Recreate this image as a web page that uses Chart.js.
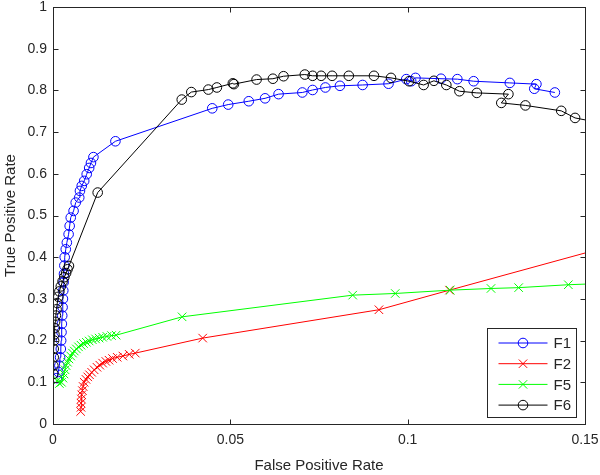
<!DOCTYPE html>
<html>
<head>
<meta charset="utf-8">
<script src="https://cdn.jsdelivr.net/npm/chart.js@4.4.1/dist/chart.umd.min.js"></script>
<style>
  html, body { margin: 0; padding: 0; background: #fff; }
  #wrap { width: 600px; height: 475px; }
</style>
</head>
<body>
<div id="wrap"><canvas id="roc"></canvas></div>
<script>
// values
const seriesNames = ['F1', 'F2', 'F5', 'F6'];

const f1X = [0.0011, 0.0015, 0.0018, 0.002, 0.0022, 0.0023, 0.0024, 0.0025, 0.0026, 0.0027,
             0.0028, 0.0029, 0.003, 0.0031, 0.0032, 0.0033, 0.0036, 0.0039, 0.0044, 0.0047,
             0.005, 0.0058, 0.0064, 0.0074, 0.0076, 0.0081, 0.0088, 0.0095, 0.0102, 0.0107,
             0.0114, 0.0176, 0.0449, 0.0494, 0.0552, 0.0598, 0.0636, 0.0703, 0.0732, 0.0768,
             0.0809, 0.0873, 0.0946, 0.0996, 0.101, 0.1022, 0.1094, 0.114, 0.1186, 0.1288,
             0.1363, 0.1357, 0.1415];
const f1Y = [0.11, 0.125, 0.14, 0.16, 0.18, 0.2, 0.22, 0.24, 0.26, 0.28,
             0.3, 0.32, 0.34, 0.36, 0.38, 0.4, 0.419, 0.435, 0.455, 0.475,
             0.495, 0.511, 0.531, 0.543, 0.559, 0.571, 0.583, 0.599, 0.614, 0.626,
             0.64, 0.678, 0.757, 0.766, 0.774, 0.781, 0.791, 0.795, 0.801, 0.807,
             0.811, 0.813, 0.816, 0.827, 0.822, 0.83, 0.828, 0.827, 0.822, 0.818,
             0.815, 0.804, 0.795];

const f2X = [0.0078, 0.0079, 0.0079, 0.008, 0.0081, 0.0083, 0.0085, 0.0088, 0.0093, 0.0098,
             0.0103, 0.0109, 0.0116, 0.0124, 0.0132, 0.014, 0.0149, 0.0158, 0.0168, 0.0181,
             0.0197, 0.0215, 0.0232, 0.0422, 0.0919, 0.1118, 0.156];
const f2Y = [0.03, 0.04, 0.05, 0.06, 0.07, 0.08, 0.09, 0.1, 0.107, 0.113,
             0.118, 0.124, 0.13, 0.136, 0.141, 0.146, 0.15, 0.153, 0.157, 0.16,
             0.163, 0.167, 0.17, 0.206, 0.274, 0.321, 0.424];

const f5X = [0.0013, 0.0018, 0.0024, 0.0028, 0.0031, 0.0034, 0.0037, 0.0041, 0.0045, 0.005,
             0.0055, 0.006, 0.0066, 0.0072, 0.0079, 0.0086, 0.0094, 0.0102, 0.0111, 0.012,
             0.013, 0.014, 0.0152, 0.0165, 0.0178, 0.0364, 0.0845, 0.0965, 0.112, 0.1235,
             0.1313, 0.1453, 0.155];
const f5Y = [0.105, 0.097, 0.1, 0.11, 0.12, 0.13, 0.14, 0.148, 0.156, 0.163,
             0.17, 0.175, 0.18, 0.185, 0.189, 0.193, 0.196, 0.199, 0.202, 0.204,
             0.206, 0.208, 0.21, 0.212, 0.213, 0.257, 0.309, 0.313, 0.321, 0.325,
             0.327, 0.334, 0.337];

const f6X = [0.0001, 0.0001, 0.0002, 0.0002, 0.0003, 0.0004, 0.0005, 0.0006, 0.0008, 0.001,
             0.0012, 0.0015, 0.0018, 0.0022, 0.0027, 0.0032, 0.0037, 0.0041, 0.0045, 0.0126,
             0.0363, 0.039, 0.0438, 0.0462, 0.0507, 0.051, 0.0574, 0.062, 0.065, 0.071,
             0.0732, 0.0756, 0.0787, 0.0834, 0.0905, 0.0953, 0.1004, 0.1045, 0.1074, 0.1109,
             0.1146, 0.1195, 0.1284, 0.1264, 0.1332, 0.1433, 0.1472, 0.152];
const f6Y = [0.12, 0.14, 0.16, 0.18, 0.2, 0.215, 0.23, 0.245, 0.26, 0.275,
             0.29, 0.305, 0.318, 0.33, 0.342, 0.352, 0.362, 0.371, 0.379, 0.555,
             0.778, 0.796, 0.802, 0.807, 0.817, 0.815, 0.826, 0.828, 0.834, 0.838,
             0.835, 0.835, 0.835, 0.835, 0.835, 0.83, 0.822, 0.813, 0.823, 0.813,
             0.798, 0.794, 0.791, 0.77, 0.764, 0.751, 0.734, 0.726];

const xTicks = [0, 0.05, 0.1, 0.15];
const xTickLabels = ['0', '0.05', '0.1', '0.15'];
const yTicks = [0, 0.1, 0.2, 0.3, 0.4, 0.5, 0.6, 0.7, 0.8, 0.9, 1];
const yTickLabels = ['0', '0.1', '0.2', '0.3', '0.4', '0.5', '0.6', '0.7', '0.8', '0.9', '1'];

const axisColor = '#262626';
const fontFamily = 'Arial, "Liberation Sans", Helvetica, sans-serif';

const toPoints = (xs, ys) => xs.map((v, i) => ({x: v, y: ys[i]}));

const makeSeries = (label, xs, ys, color, style, order) => ({
    label: label,
    data: toPoints(xs, ys),
    borderColor: color,
    backgroundColor: 'rgba(0,0,0,0)',
    borderWidth: 1,
    pointStyle: style,
    pointRadius: style === 'circle' ? 4.8 : 6,
    pointBorderColor: color,
    pointBackgroundColor: 'rgba(0,0,0,0)',
    pointBorderWidth: 1,
    pointHoverRadius: 4,
    showLine: true,
    tension: 0,
    order: order
});

// box, inward tick marks and the legend inside the axes, matlab style
const matlabAxes = {
    id: 'matlabAxes',
    afterDraw(chart) {
        const ctx = chart.ctx;
        const a = chart.chartArea;
        const xs = chart.scales.x, ys = chart.scales.y;
        const L = Math.round(a.left) + 0.5, R = Math.round(a.right) + 0.5;
        const T = Math.round(a.top) + 0.5, B = Math.round(a.bottom) + 0.5;
        ctx.save();
        ctx.strokeStyle = axisColor;
        ctx.lineWidth = 1;
        ctx.strokeRect(L, T, R - L, B - T);
        ctx.beginPath();
        xTicks.forEach(v => {
            const px = Math.round(xs.getPixelForValue(v)) + 0.5;
            ctx.moveTo(px, B); ctx.lineTo(px, B - 5);
            ctx.moveTo(px, T); ctx.lineTo(px, T + 5);
        });
        yTicks.forEach(v => {
            const py = Math.round(ys.getPixelForValue(v)) + 0.5;
            ctx.moveTo(L, py); ctx.lineTo(L + 5, py);
            ctx.moveTo(R, py); ctx.lineTo(R - 5, py);
        });
        ctx.stroke();

        // legend box
        const w = 89, h = 89;
        const bx = Math.round(a.right - 9 - w) + 0.5;
        const by = Math.round(a.bottom - 7 - h) + 0.5;
        ctx.fillStyle = '#fff';
        ctx.fillRect(bx, by, w, h);
        ctx.strokeRect(bx, by, w, h);
        ctx.font = '15px ' + fontFamily;
        ctx.textBaseline = 'middle';
        ctx.textAlign = 'left';
        chart.data.datasets.forEach((ds, i) => {
            const cy = by + 14.5 + i * 20.7;
            ctx.strokeStyle = ds.borderColor;
            ctx.beginPath();
            ctx.moveTo(bx + 11, cy);
            ctx.lineTo(bx + 60, cy);
            ctx.stroke();
            const mx = bx + 35.5;
            ctx.beginPath();
            if (ds.pointStyle === 'circle') {
                ctx.arc(mx, cy, 4.8, 0, Math.PI * 2);
            } else {
                ctx.moveTo(mx - 4.2, cy - 4.2); ctx.lineTo(mx + 4.2, cy + 4.2);
                ctx.moveTo(mx + 4.2, cy - 4.2); ctx.lineTo(mx - 4.2, cy + 4.2);
            }
            ctx.stroke();
            ctx.fillStyle = axisColor;
            ctx.fillText(ds.label, bx + 66, cy + 1);
        });
        ctx.restore();
    }
};

document.addEventListener('DOMContentLoaded', function () {
    const ctx = document.getElementById('roc');
    new Chart(ctx, {
        type: 'scatter',
        data: {
            datasets: [
                makeSeries(seriesNames[0], f1X, f1Y, 'rgb(0,0,255)', 'circle', 4),
                makeSeries(seriesNames[1], f2X, f2Y, 'rgb(255,0,0)', 'crossRot', 3),
                makeSeries(seriesNames[2], f5X, f5Y, 'rgb(0,255,0)', 'crossRot', 2),
                makeSeries(seriesNames[3], f6X, f6Y, 'rgb(0,0,0)', 'circle', 1)
            ]
        },
        options: {
            responsive: true,
            maintainAspectRatio: false,
            animation: false,
            layout: { padding: { left: 0, right: 15, top: 5, bottom: 0 } },
            plugins: {
                legend: { display: false },
                tooltip: { enabled: false }
            },
            scales: {
                x: {
                    type: 'linear',
                    min: 0, max: 0.15,
                    grid: { display: false, drawTicks: false },
                    border: { display: false },
                    afterBuildTicks: (scale) => { scale.ticks = xTicks.map(v => ({value: v})); },
                    afterFit: (scale) => {
                        scale.height = 51;
                        scale.paddingLeft = 0;
                        scale.paddingRight = 0;
                    },
                    ticks: {
                        padding: 8,
                        color: axisColor,
                        font: { family: fontFamily, size: 14 },
                        maxRotation: 0,
                        callback: (v) => xTickLabels[xTicks.findIndex(t => Math.abs(t - v) < 1e-9)]
                    },
                    title: {
                        display: true,
                        text: 'False Positive Rate',
                        color: axisColor,
                        font: { family: fontFamily, size: 15 },
                        padding: { top: 4, bottom: 0 }
                    }
                },
                y: {
                    type: 'linear',
                    min: 0, max: 1,
                    grid: { display: false, drawTicks: false },
                    border: { display: false },
                    afterBuildTicks: (scale) => { scale.ticks = yTicks.map(v => ({value: v})); },
                    afterFit: (scale) => {
                        scale.width = 53;
                        scale.paddingTop = 0;
                        scale.paddingBottom = 0;
                    },
                    ticks: {
                        padding: 6,
                        color: axisColor,
                        font: { family: fontFamily, size: 14 },
                        callback: (v) => yTickLabels[yTicks.findIndex(t => Math.abs(t - v) < 1e-9)]
                    },
                    title: {
                        display: true,
                        text: 'True Positive Rate',
                        color: axisColor,
                        font: { family: fontFamily, size: 15 },
                        padding: { top: 2, bottom: 4 }
                    }
                }
            }
        },
        plugins: [matlabAxes]
    });
});
</script>
</body>
</html>
